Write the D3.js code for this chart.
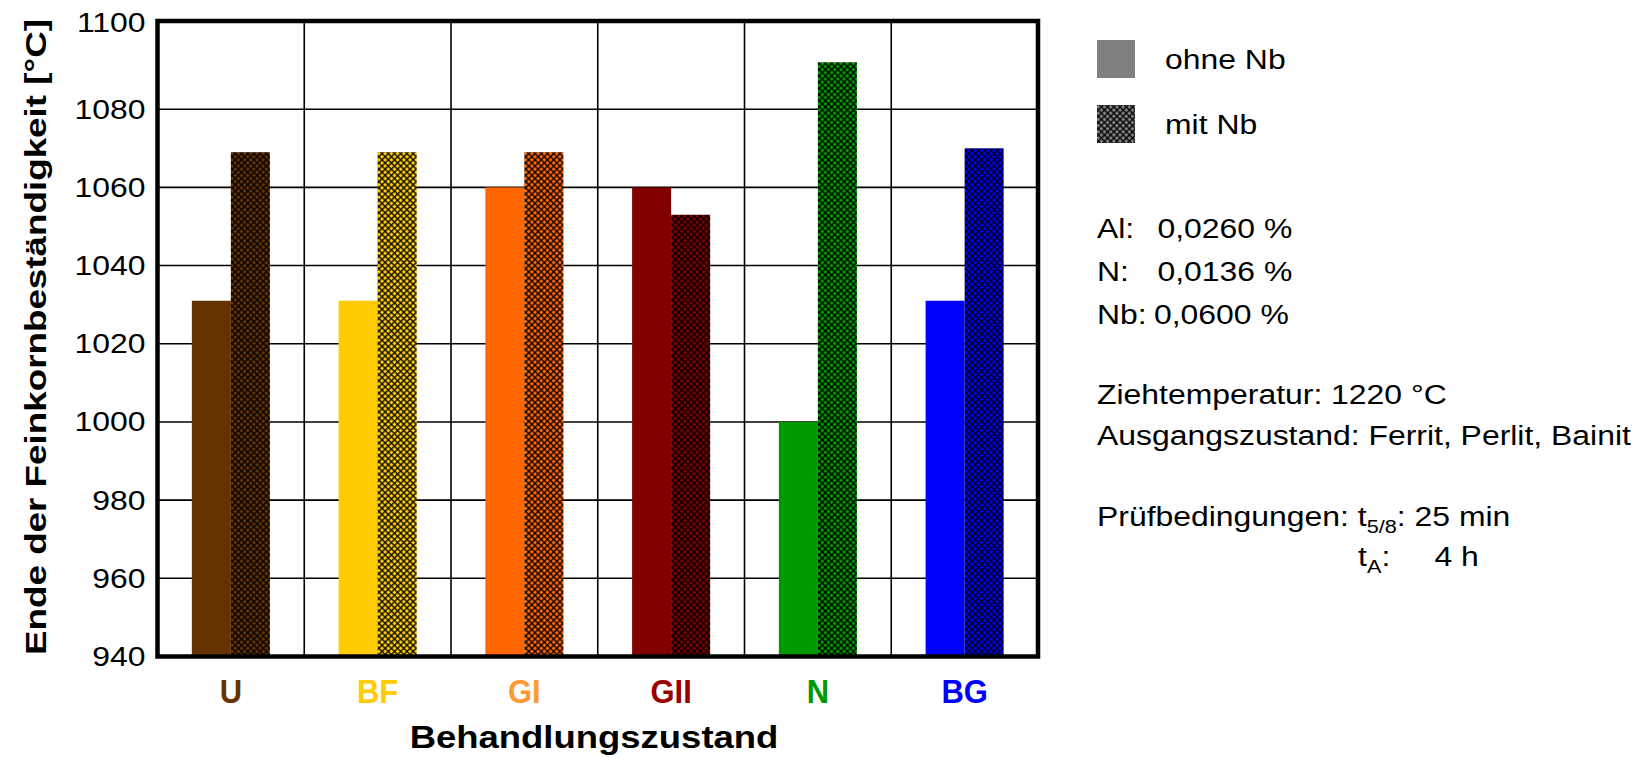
<!DOCTYPE html>
<html>
<head>
<meta charset="utf-8">
<script src="https://cdn.jsdelivr.net/npm/d3@7/dist/d3.min.js"></script>
<style>
  html, body { margin: 0; padding: 0; background: #fff; }
  svg { display: block; font-family: "Liberation Sans", Arial, sans-serif; }
</style>
</head>
<body>
<svg id="chart" width="1641" height="758"></svg>
<script>
// Treatment states on the x axis
const categories = ["U", "BF", "GI", "GII", "N", "BG"];
// End of grain-refinement stability [°C], steel without / with niobium
const ohneNb = [1031, 1031, 1060, 1060, 1000, 1031];
const mitNb  = [1069, 1069, 1069, 1053, 1092, 1070];
const seriesNames = ["ohne Nb", "mit Nb"];
// Bar and label colours per treatment state
const barColors   = ["#663300", "#FFCC00", "#FF6600", "#800000", "#009900", "#0000FF"];
const labelColors = ["#663300", "#FFCC00", "#FF9933", "#990000", "#009900", "#0000FF"];
// Y axis ticks
const yTicks = [940, 960, 980, 1000, 1020, 1040, 1060, 1080, 1100];
// Side notes
const composition = [["Al:", "0,0260 %"], ["N:", "0,0136 %"], ["Nb:", "0,0600 %"]];

const svg = d3.select("#chart");
const SX = 1.14; // horizontal text stretch

const frame = { left: 157.5, right: 1038, top: 21, bottom: 656.5 };

const x = d3.scaleBand().domain(categories).range([frame.left, frame.right]).padding(0);
const x1 = d3.scaleBand().domain(seriesNames).range([0, x.bandwidth()])
  .paddingInner(0).paddingOuter(0.88);
const y = d3.scaleLinear().domain([940, 1100]).range([frame.bottom, 31]);

// cross-hatch patterns for the "mit Nb" bars
const defs = svg.append("defs");
function hatch(id, color) {
  const p = defs.append("pattern")
    .attr("id", id)
    .attr("patternUnits", "userSpaceOnUse")
    .attr("width", 4.4).attr("height", 4.4)
    .attr("patternTransform", "rotate(45)");
  p.append("rect").attr("width", 4.4).attr("height", 4.4).attr("fill", color);
  p.append("rect").attr("width", 4.4).attr("height", 1.6).attr("fill", "#000").attr("opacity", 0.8);
  p.append("rect").attr("width", 1.6).attr("height", 4.4).attr("fill", "#000").attr("opacity", 0.8);
}
barColors.forEach((c, i) => hatch("hatch-" + i, c));
hatch("hatch-legend", "#808080");

// grid
const grid = svg.append("g").attr("stroke", "#000").attr("stroke-width", 1.6);
grid.selectAll("line.h")
  .data(yTicks.filter(t => t > 940 && t < 1100))
  .join("line").attr("class", "h")
  .attr("x1", frame.left).attr("x2", frame.right)
  .attr("y1", d => y(d)).attr("y2", d => y(d));
grid.selectAll("line.v")
  .data(categories.slice(1))
  .join("line").attr("class", "v")
  .attr("x1", d => x(d)).attr("x2", d => x(d))
  .attr("y1", frame.top).attr("y2", frame.bottom);

// bars
const groups = svg.append("g").selectAll("g")
  .data(categories)
  .join("g")
  .attr("transform", d => `translate(${x(d)},0)`);

groups.append("rect")
  .attr("x", x1("ohne Nb"))
  .attr("width", x1.bandwidth())
  .attr("y", (d, i) => y(ohneNb[i]))
  .attr("height", (d, i) => y(940) - y(ohneNb[i]))
  .attr("fill", (d, i) => barColors[i]);

groups.append("rect")
  .attr("x", x1("mit Nb"))
  .attr("width", x1.bandwidth())
  .attr("y", (d, i) => y(mitNb[i]))
  .attr("height", (d, i) => y(940) - y(mitNb[i]))
  .attr("fill", (d, i) => `url(#hatch-${i})`);

// frame
svg.append("rect")
  .attr("x", frame.left).attr("y", frame.top)
  .attr("width", frame.right - frame.left)
  .attr("height", frame.bottom - frame.top)
  .attr("fill", "none").attr("stroke", "#000").attr("stroke-width", 4.5);

// y axis labels
const yAxis = svg.append("g")
  .attr("transform", `translate(${frame.left},0)`)
  .call(d3.axisLeft(y).tickValues(yTicks).tickSize(0).tickPadding(12).tickFormat(d3.format("d")));
yAxis.select(".domain").remove();
yAxis.selectAll("text")
  .attr("font-size", 28)
  .attr("font-family", "Liberation Sans, Arial, sans-serif")
  .attr("fill", "#000")
  .attr("x", 0)
  .attr("transform", d => `translate(-12,${d === 1100 ? -8 : 0}) scale(${SX},1)`);

// category labels
svg.append("g").selectAll("text")
  .data(categories)
  .join("text")
  .attr("transform", d => `translate(${x(d) + x.bandwidth() / 2},703) scale(1,1.05)`)
  .attr("text-anchor", "middle")
  .attr("font-weight", "bold")
  .attr("font-size", 31)
  .attr("fill", (d, i) => labelColors[i])
  .text(d => d);

// axis titles
svg.append("text")
  .attr("transform", `translate(594,748) scale(${SX},1)`)
  .attr("text-anchor", "middle")
  .attr("font-weight", "bold")
  .attr("font-size", 32)
  .text("Behandlungszustand");

svg.append("text")
  .attr("transform", "translate(46,337) rotate(-90)")
  .attr("text-anchor", "middle")
  .attr("font-weight", "bold")
  .attr("font-size", 30)
  .attr("textLength", 636)
  .attr("lengthAdjust", "spacingAndGlyphs")
  .text("Ende der Feinkornbeständigkeit [°C]");

// legend
const legend = svg.append("g");
seriesNames.forEach((name, i) => {
  const yy = 40 + i * 65;
  legend.append("rect")
    .attr("x", 1097).attr("y", yy).attr("width", 38).attr("height", 38)
    .attr("fill", i === 0 ? "#808080" : "url(#hatch-legend)");
  legend.append("text")
    .attr("transform", `translate(1165,${yy + 29}) scale(${SX},1)`)
    .attr("font-size", 28)
    .text(name);
});

// side notes
function note(xp, yp) {
  return svg.append("text")
    .attr("transform", `translate(${xp},${yp}) scale(${SX},1)`)
    .attr("font-size", 28);
}
composition.forEach(([k, v], i) => {
  const t = note(1097, 238 + i * 43);
  t.append("tspan").attr("x", 0).text(k);
  t.append("tspan").attr("x", i === 2 ? 50 : 53).text(v);
});
note(1097, 404).text("Ziehtemperatur: 1220 °C");
note(1097, 445).text("Ausgangszustand: Ferrit, Perlit, Bainit");

const p1 = note(1097, 526);
p1.append("tspan").text("Prüfbedingungen: t");
p1.append("tspan").attr("font-size", 19).attr("dy", 7).text("5/8");
p1.append("tspan").attr("dy", -7).text(": 25 min");

const p2 = note(1097, 566);
p2.append("tspan").attr("x", 229).text("t");
p2.append("tspan").attr("font-size", 19).attr("dy", 7).text("A");
p2.append("tspan").attr("dy", -7).text(":");
p2.append("tspan").attr("x", 296).text("4 h");
</script>
</body>
</html>
